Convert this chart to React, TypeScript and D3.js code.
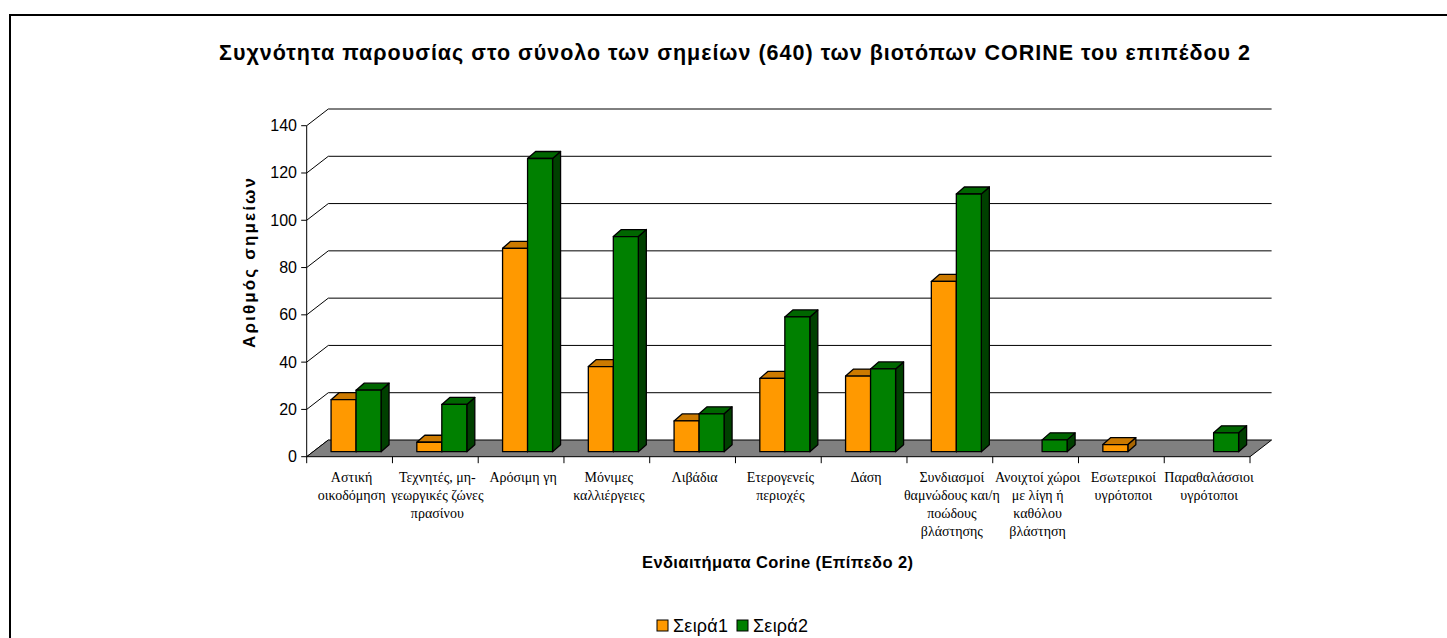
import React from 'react';
import * as d3 from 'd3';

// values
const categories = [
  ['Αστική', 'οικοδόμηση'],
  ['Τεχνητές, μη-', 'γεωργικές ζώνες', 'πρασίνου'],
  ['Αρόσιμη γη'],
  ['Μόνιμες', 'καλλιέργειες'],
  ['Λιβάδια'],
  ['Ετερογενείς', 'περιοχές'],
  ['Δάση'],
  ['Συνδιασμοί', 'θαμνώδους και/η', 'ποώδους', 'βλάστησης'],
  ['Ανοιχτοί χώροι', 'με λίγη ή', 'καθόλου', 'βλάστηση'],
  ['Εσωτερικοί', 'υγρότοποι'],
  ['Παραθαλάσσιοι', 'υγρότοποι'],
];
const seriesNames = ['Σειρά1', 'Σειρά2'];
const seira1 = [22, 4, 86, 36, 13, 31, 32, 72, 0, 3, 0];
const seira2 = [26, 20, 124, 91, 16, 57, 35, 109, 5, 0, 8];
const yTicks = [0, 20, 40, 60, 80, 100, 120, 140];

const colors = {
  Σειρά1: { front: '#FF9900', top: '#CC7A00', side: '#A86500' },
  Σειρά2: { front: '#008000', top: '#006600', side: '#004000' },
};

const W = 1447, H = 638;
const DX = 21.6, DY = 16.7; // floor depth
const T0 = 0.3; // bar front plane (fraction of depth)
const BDX = 8, BDY = 7; // bar depth

const App = () => {
  const keys = categories.map((c, i) => 'c' + i);
  const x = d3.scaleBand().domain(keys).range([306.7, 1250]);
  const y = d3.scaleLinear().domain([0, 140]).range([456.7, 125.7]);
  const inner = d3.scaleBand().domain(seriesNames).range([0, x.bandwidth()]).paddingInner(0).paddingOuter(0.715);
  const bw = inner.bandwidth();
  const sx = T0 * DX, sy = T0 * DY;
  const [xl, xr] = x.range();
  const y0 = y(0);

  const values = { Σειρά1: seira1, Σειρά2: seira2 };

  const bars = [];
  keys.forEach((k, i) => {
    seriesNames.forEach(s => {
      const v = values[s][i];
      if (!v) return;
      const a = x(k) + inner(s) + sx;
      const b = a + bw;
      const yb = y(0) - sy;
      const yt = y(v) - sy;
      const c = colors[s];
      bars.push(
        <g key={k + s} stroke="#000" strokeWidth={1.3} strokeLinejoin="round">
          <polygon points={`${b},${yt} ${b + BDX},${yt - BDY} ${b + BDX},${yb - BDY} ${b},${yb}`} fill={c.side} />
          <polygon points={`${a},${yt} ${a + BDX},${yt - BDY} ${b + BDX},${yt - BDY} ${b},${yt}`} fill={c.top} />
          <rect x={a} y={yt} width={bw} height={yb - yt} fill={c.front} />
        </g>
      );
    });
  });

  return (
    <svg width={W} height={H} style={{ position: 'absolute', left: 0, top: 0, background: '#fff' }}
      fontFamily="'Liberation Sans', Arial, sans-serif">
      <rect x={10} y={15} width={1500} height={700} fill="none" stroke="#000" strokeWidth={2} />

      <text x={734.5} y={60} textAnchor="middle" fontWeight="bold" fontSize={21.5}
        textLength={1031} lengthAdjust="spacing">
        Συχνότητα παρουσίας στο σύνολο των σημείων (640) των βιοτόπων CORINE του επιπέδου 2
      </text>

      {/* gridlines on back wall + left wall diagonals */}
      {yTicks.map(t => (
        <g key={t} stroke="#000" strokeWidth={1} fill="none">
          <line x1={xl} y1={y(t)} x2={xl + DX} y2={y(t) - DY} />
          {t > 0 && <line x1={xl + DX} y1={y(t) - DY} x2={xr + DX} y2={y(t) - DY} />}
          <line x1={xl - 5.5} y1={y(t)} x2={xl} y2={y(t)} />
        </g>
      ))}

      {/* floor */}
      <polygon points={`${xl},${y0} ${xl + DX},${y0 - DY} ${xr + DX},${y0 - DY} ${xr},${y0}`}
        fill="#808080" stroke="#000" strokeWidth={1} />

      {/* value axis */}
      <line x1={xl} y1={y(140)} x2={xl} y2={y0} stroke="#000" />
      {yTicks.map(t => (
        <text key={t} x={297} y={y(t)} textAnchor="end" dominantBaseline="central" fontSize={16}>{t}</text>
      ))}

      {/* category ticks */}
      {[...keys.map(k => x(k)), xr].map((p, i) => (
        <line key={i} x1={p} y1={y0} x2={p} y2={y0 + 6.5} stroke="#000" />
      ))}

      {bars}

      {/* category labels */}
      {keys.map((k, i) => (
        <text key={k} textAnchor="middle" fontFamily="'Liberation Serif', 'Times New Roman', serif" fontSize={14}>
          {categories[i].map((line, j) => (
            <tspan key={j} x={x(k) + x.bandwidth() / 2 + 2} y={481.5 + j * 18.3}>{line}</tspan>
          ))}
        </text>
      ))}

      <text x={777.5} y={568} textAnchor="middle" fontWeight="bold" fontSize={16.5}
        textLength={271} lengthAdjust="spacing">Ενδιαιτήματα Corine (Επίπεδο 2)</text>

      <text transform="translate(249,263) rotate(-90)" textAnchor="middle" dominantBaseline="central"
        fontWeight="bold" fontSize={17} textLength={170} lengthAdjust="spacing">Αριθμός σημείων</text>

      {/* legend */}
      {seriesNames.map((s, i) => (
        <g key={s} transform={`translate(${657 + i * 80},620)`}>
          <rect x={0} y={0} width={11} height={11} fill={colors[s].front} stroke="#000" strokeWidth={1} />
          <text x={16} y={11.5} fontSize={18} textLength={55} lengthAdjust="spacing">{s}</text>
        </g>
      ))}
    </svg>
  );
};

export default App;
